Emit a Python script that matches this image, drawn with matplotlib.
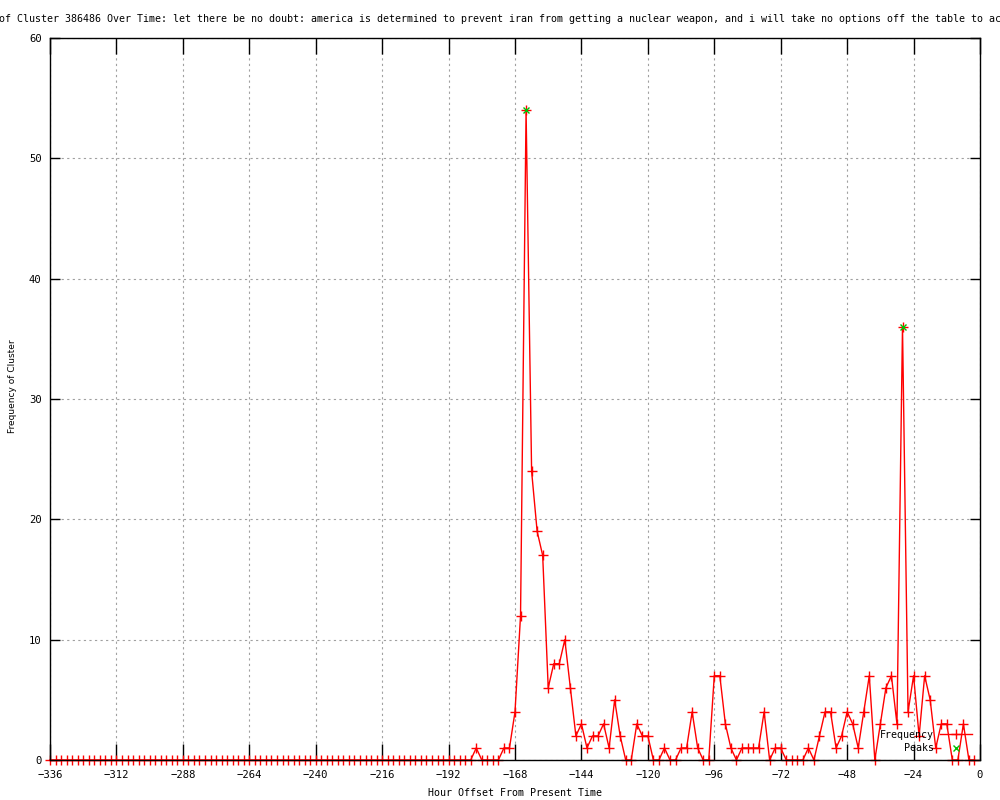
import matplotlib
matplotlib.use('Agg')
import matplotlib.pyplot as plt
from matplotlib.lines import Line2D

# hourly offsets, one sample every 2 hours
hours = list(range(-336, 0, 2))
freq = [
    0, 0, 0, 0, 0, 0, 0, 0, 0, 0, 0, 0, 0, 0, 0, 0, 0, 0, 0, 0,   # -336 .. -298
    0, 0, 0, 0, 0, 0, 0, 0, 0, 0, 0, 0, 0, 0, 0, 0, 0, 0, 0, 0,   # -296 .. -258
    0, 0, 0, 0, 0, 0, 0, 0, 0, 0, 0, 0, 0, 0, 0, 0, 0, 0, 0, 0,   # -256 .. -218
    0, 0, 0, 0, 0, 0, 0, 0, 0, 0, 0, 0, 0, 0,                     # -216 .. -190
    0, 0, 0, 1, 0, 0, 0, 0, 1, 1, 4, 12, 54, 24, 19, 17,          # -188 .. -158
    6, 8, 8, 10, 6, 2, 3, 1, 2, 2, 3, 1, 5, 2, 0, 0,              # -156 .. -126
    3, 2, 2, 0, 0, 1, 0, 0, 1, 1, 4, 1, 0, 0, 7, 7,               # -124 .. -94
    3, 1, 0, 1, 1, 1, 1, 4, 0, 1, 1, 0, 0, 0, 0, 1,               # -92 .. -62
    0, 2, 4, 4, 1, 2, 4, 3, 1, 4, 7, 0, 3, 6, 7, 3,               # -60 .. -30
    36, 4, 7, 2, 7, 5, 1, 3, 3, 0, 0, 3, 0, 0,                    # -28 .. -2
]
peak_hours = [-164, -28]
peak_vals = [54, 36]

title = ("of Cluster 386486 Over Time: let there be no doubt: america is determined "
         "to prevent iran from getting a nuclear weapon, and i will take no options "
         "off the table to ac")

mono = 'DejaVu Sans Mono'
fs = 7.2

fig = plt.figure(figsize=(10, 8), dpi=100)
ax = fig.add_axes([0.05, 0.05, 0.93, 0.9025])

ax.plot(hours, freq, color='#ff0000', lw=1.0, marker='+', ms=6.5, mew=1.0,
        zorder=2, clip_on=False)
ax.plot(peak_hours, peak_vals, ls='none', color='#00c000', marker='x', ms=5,
        mew=1.0, zorder=3)

ax.set_xlim(-336, 0)
ax.set_ylim(0, 60)
ax.set_xticks(range(-336, 1, 24))
ax.set_yticks(range(0, 61, 10))
ax.grid(True, color='#a0a0a0', ls=(0, (2, 3)), lw=0.8)
ax.tick_params(axis='x', direction='in', length=11.5, width=1, top=True, pad=7)
ax.tick_params(axis='y', direction='in', length=7, width=1, right=True, pad=6)
for lab in ax.get_xticklabels() + ax.get_yticklabels():
    lab.set_fontfamily(mono)
    lab.set_fontsize(7.6)
for sp in ax.spines.values():
    sp.set_linewidth(1.0)
    sp.set_zorder(4)

fig.text(0.5, 1 - 19 / 800, title, ha='center', va='center', family=mono, fontsize=fs)
fig.text(0.515, 1 - 793 / 800, 'Hour Offset From Present Time', ha='center',
         va='center', family=mono, fontsize=fs)
fig.text(0.013, 1 - 386 / 800, 'Frequency of Cluster', rotation=90, ha='center',
         va='center', family='DejaVu Sans', fontsize=6.5)

handles = [
    Line2D([], [], color='#ff0000', lw=1.0, marker='+', ms=6.5, mew=1.0),
    Line2D([], [], ls='none', color='#00c000', marker='x', ms=5, mew=1.0),
]
leg = ax.legend(handles, ['Frequency', 'Peaks'], loc='lower right',
                bbox_to_anchor=(972 / 1000, 1 - 753 / 800),
                bbox_transform=fig.transFigure, frameon=False, markerfirst=False,
                alignment='right', prop={'family': mono, 'size': fs},
                handlelength=3.2, handletextpad=0.6, labelspacing=0.35,
                borderpad=0, borderaxespad=0, numpoints=1)

fig.savefig('out.png', dpi=100)
